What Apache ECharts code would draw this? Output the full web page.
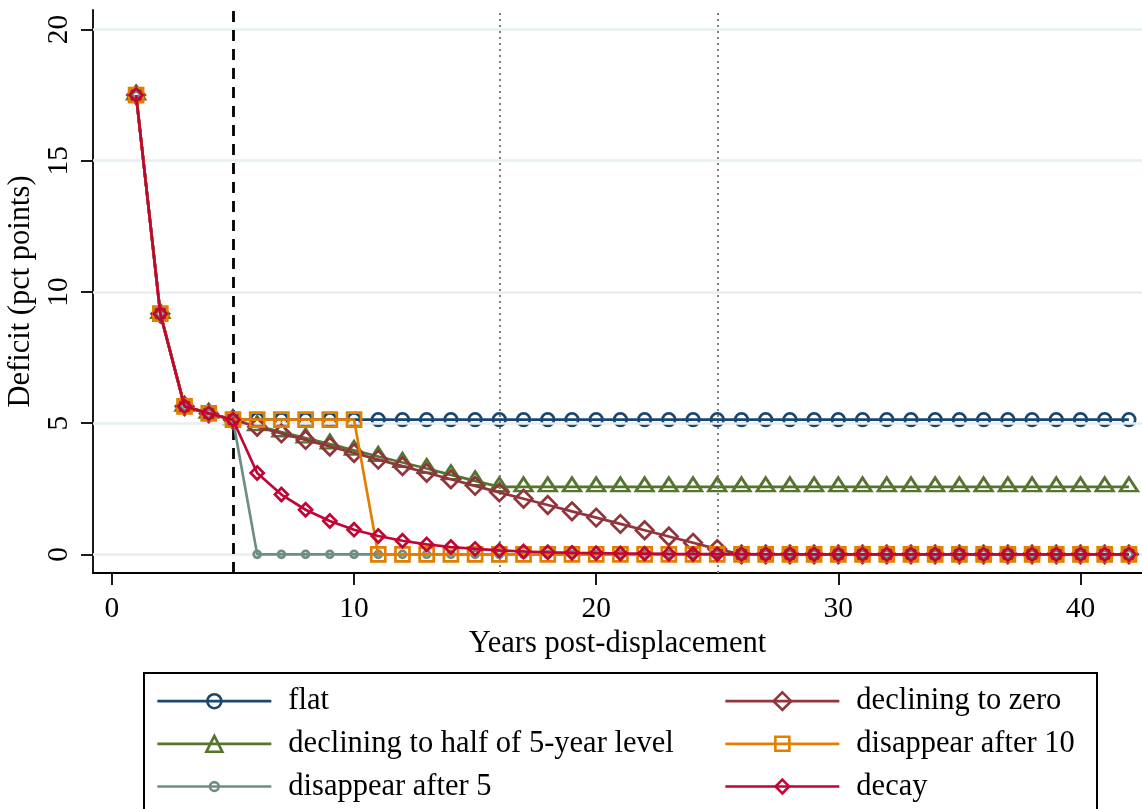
<!DOCTYPE html>
<html>
<head>
<meta charset="utf-8">
<script src="https://cdn.jsdelivr.net/npm/echarts@6/dist/echarts.min.js"></script>
<style>
html,body{margin:0;padding:0;background:#fff;}
#chart{width:1142px;height:809px;}
</style>
</head>
<body>
<div id="chart"></div>
<script>
var years = [1,2,3,4,5,6,7,8,9,10,11,12,13,14,15,16,17,18,19,20,21,22,23,24,25,26,27,28,29,30,31,32,33,34,35,36,37,38,39,40,41,42];
var flat = [17.5,9.17,5.64,5.37,5.13,5.13,5.13,5.13,5.13,5.13,5.13,5.13,5.13,5.13,5.13,5.13,5.13,5.13,5.13,5.13,5.13,5.13,5.13,5.13,5.13,5.13,5.13,5.13,5.13,5.13,5.13,5.13,5.13,5.13,5.13,5.13,5.13,5.13,5.13,5.13,5.13,5.13];
var halfLevel = [17.5,9.17,5.64,5.37,5.13,4.90,4.66,4.43,4.20,3.96,3.73,3.50,3.27,3.03,2.80,2.57,2.57,2.57,2.57,2.57,2.57,2.57,2.57,2.57,2.57,2.57,2.57,2.57,2.57,2.57,2.57,2.57,2.57,2.57,2.57,2.57,2.57,2.57,2.57,2.57,2.57,2.57];
var after5 = [17.5,9.17,5.64,5.37,5.13,0,0,0,0,0,0,0,0,0,0,0,0,0,0,0,0,0,0,0,0,0,0,0,0,0,0,0,0,0,0,0,0,0,0,0,0,0];
var toZero = [17.5,9.17,5.64,5.37,5.13,4.86,4.61,4.36,4.11,3.86,3.61,3.36,3.11,2.86,2.61,2.36,2.12,1.88,1.64,1.40,1.16,0.92,0.68,0.44,0.20,0,0,0,0,0,0,0,0,0,0,0,0,0,0,0,0,0];
var after10 = [17.5,9.17,5.64,5.37,5.13,5.13,5.13,5.13,5.13,5.13,0,0,0,0,0,0,0,0,0,0,0,0,0,0,0,0,0,0,0,0,0,0,0,0,0,0,0,0,0,0,0,0];
var decay = [17.5,9.17,5.64,5.37,5.13,3.10,2.28,1.70,1.27,0.94,0.70,0.52,0.38,0.28,0.21,0.15,0.11,0.08,0.06,0.045,0.033,0.025,0.018,0.013,0.01,0.007,0.005,0.004,0.003,0.002,0,0,0,0,0,0,0,0,0,0,0,0];
var seriesNames = ['flat','declining to half of 5-year level','disappear after 5','declining to zero','disappear after 10','decay'];
var xTicks = [0,10,20,30,40];
var yTicks = [0,5,10,15,20];
var refLineDashed = [5];
var refLinesDotted = [16,25];

var FONT = 'Liberation Serif';
var colors = ['#1a476f','#55752f','#6e8e84','#90353b','#e37e00','#c10534'];
var symbols = ['circle','triangle','circle','diamond','rect','diamond'];
var sizes = [12.5,[17.5,13.5],7,17.5,14,13];
var offsets = [[0,0],[0,-2.5],[0,0],[0,0],[0,0],[0,0]];
var legendH = [17.5,20,11,22,17.5,17];
var allData = [flat, halfLevel, after5, toZero, after10, decay];

function pairs(arr){ return years.map(function(y,i){ return [y, arr[i]]; }); }

var series = [{
  type:'line', name:'_ref', data:[], z:1, silent:true,
  markLine:{
    silent:true, symbol:'none', animation:false, label:{show:false},
    data: yTicks.map(function(v){ return {yAxis:v, lineStyle:{color:'#e7eef1', width:2.5, type:'solid'}}; })
      .concat(refLineDashed.map(function(v){ return {xAxis:v, lineStyle:{color:'#000', width:2.8, type:[11,8]}}; }))
      .concat(refLinesDotted.map(function(v){ return {xAxis:v, lineStyle:{color:'#808080', width:2, type:[2,4]}}; }))
  }
}];
seriesNames.forEach(function(n,i){
  series.push({
    type:'line', name:n, data:pairs(allData[i]), z:3+i,
    symbol:symbols[i], symbolSize:sizes[i], symbolOffset:offsets[i], showAllSymbol:true,
    lineStyle:{color:colors[i], width:2.7},
    itemStyle:{color:'rgba(0,0,0,0)', borderColor:colors[i], borderWidth:2.7},
    emphasis:{disabled:true}, animation:false
  });
});

var rowY = [700.7,743.3,786];
var colX = [156,724];
var legends = seriesNames.map(function(n,i){
  var col = i < 3 ? 0 : 1;
  var row = i % 3;
  return {
    data:[n], left:colX[col], top:rowY[row]-15, padding:0,
    itemWidth:114, itemHeight:legendH[i], selectedMode:false,
    textStyle:{fontFamily:FONT, fontSize:30.5, color:'#000', padding:[0,0,0,12]},
    lineStyle:{color:colors[i], width:2.7},
    itemStyle:{color:'rgba(0,0,0,0)', borderColor:colors[i], borderWidth:2.6}
  };
});

var chart = echarts.init(document.getElementById('chart'), null, {renderer:'canvas'});
chart.setOption({
  backgroundColor:'#fff',
  animation:false,
  grid:{left:93, right:0, top:10, bottom:236, containLabel:false, outerBoundsMode:'none'},
  xAxis:{
    type:'value', min:-0.78, max:42.54,
    name:'Years post-displacement', nameLocation:'middle', nameGap:41,
    nameTextStyle:{fontFamily:FONT, fontSize:30.5, color:'#000'},
    axisLine:{onZero:false, lineStyle:{color:'#000', width:1.8}},
    axisTick:{show:true, inside:false, length:12, customValues:xTicks, lineStyle:{color:'#000', width:1.8}},
    axisLabel:{customValues:xTicks, fontFamily:FONT, fontSize:29.5, color:'#000', margin:21},
    splitLine:{show:false}
  },
  yAxis:{
    type:'value', min:-0.71, max:20.74,
    name:'Deficit (pct points)', nameLocation:'middle', nameGap:47, nameRotate:90,
    nameTextStyle:{fontFamily:FONT, fontSize:30.5, color:'#000'},
    axisLine:{onZero:false, lineStyle:{color:'#000', width:1.8}},
    axisTick:{show:true, inside:false, length:12, customValues:yTicks, lineStyle:{color:'#000', width:1.8}},
    axisLabel:{customValues:yTicks, rotate:90, fontFamily:FONT, fontSize:29.5, color:'#000', margin:19},
    splitLine:{show:false}
  },
  legend:legends,
  graphic:[{type:'rect', shape:{x:144, y:673, width:953, height:170}, style:{fill:'none', stroke:'#000', lineWidth:2}, silent:true}],
  series:series
});
</script>
</body>
</html>
